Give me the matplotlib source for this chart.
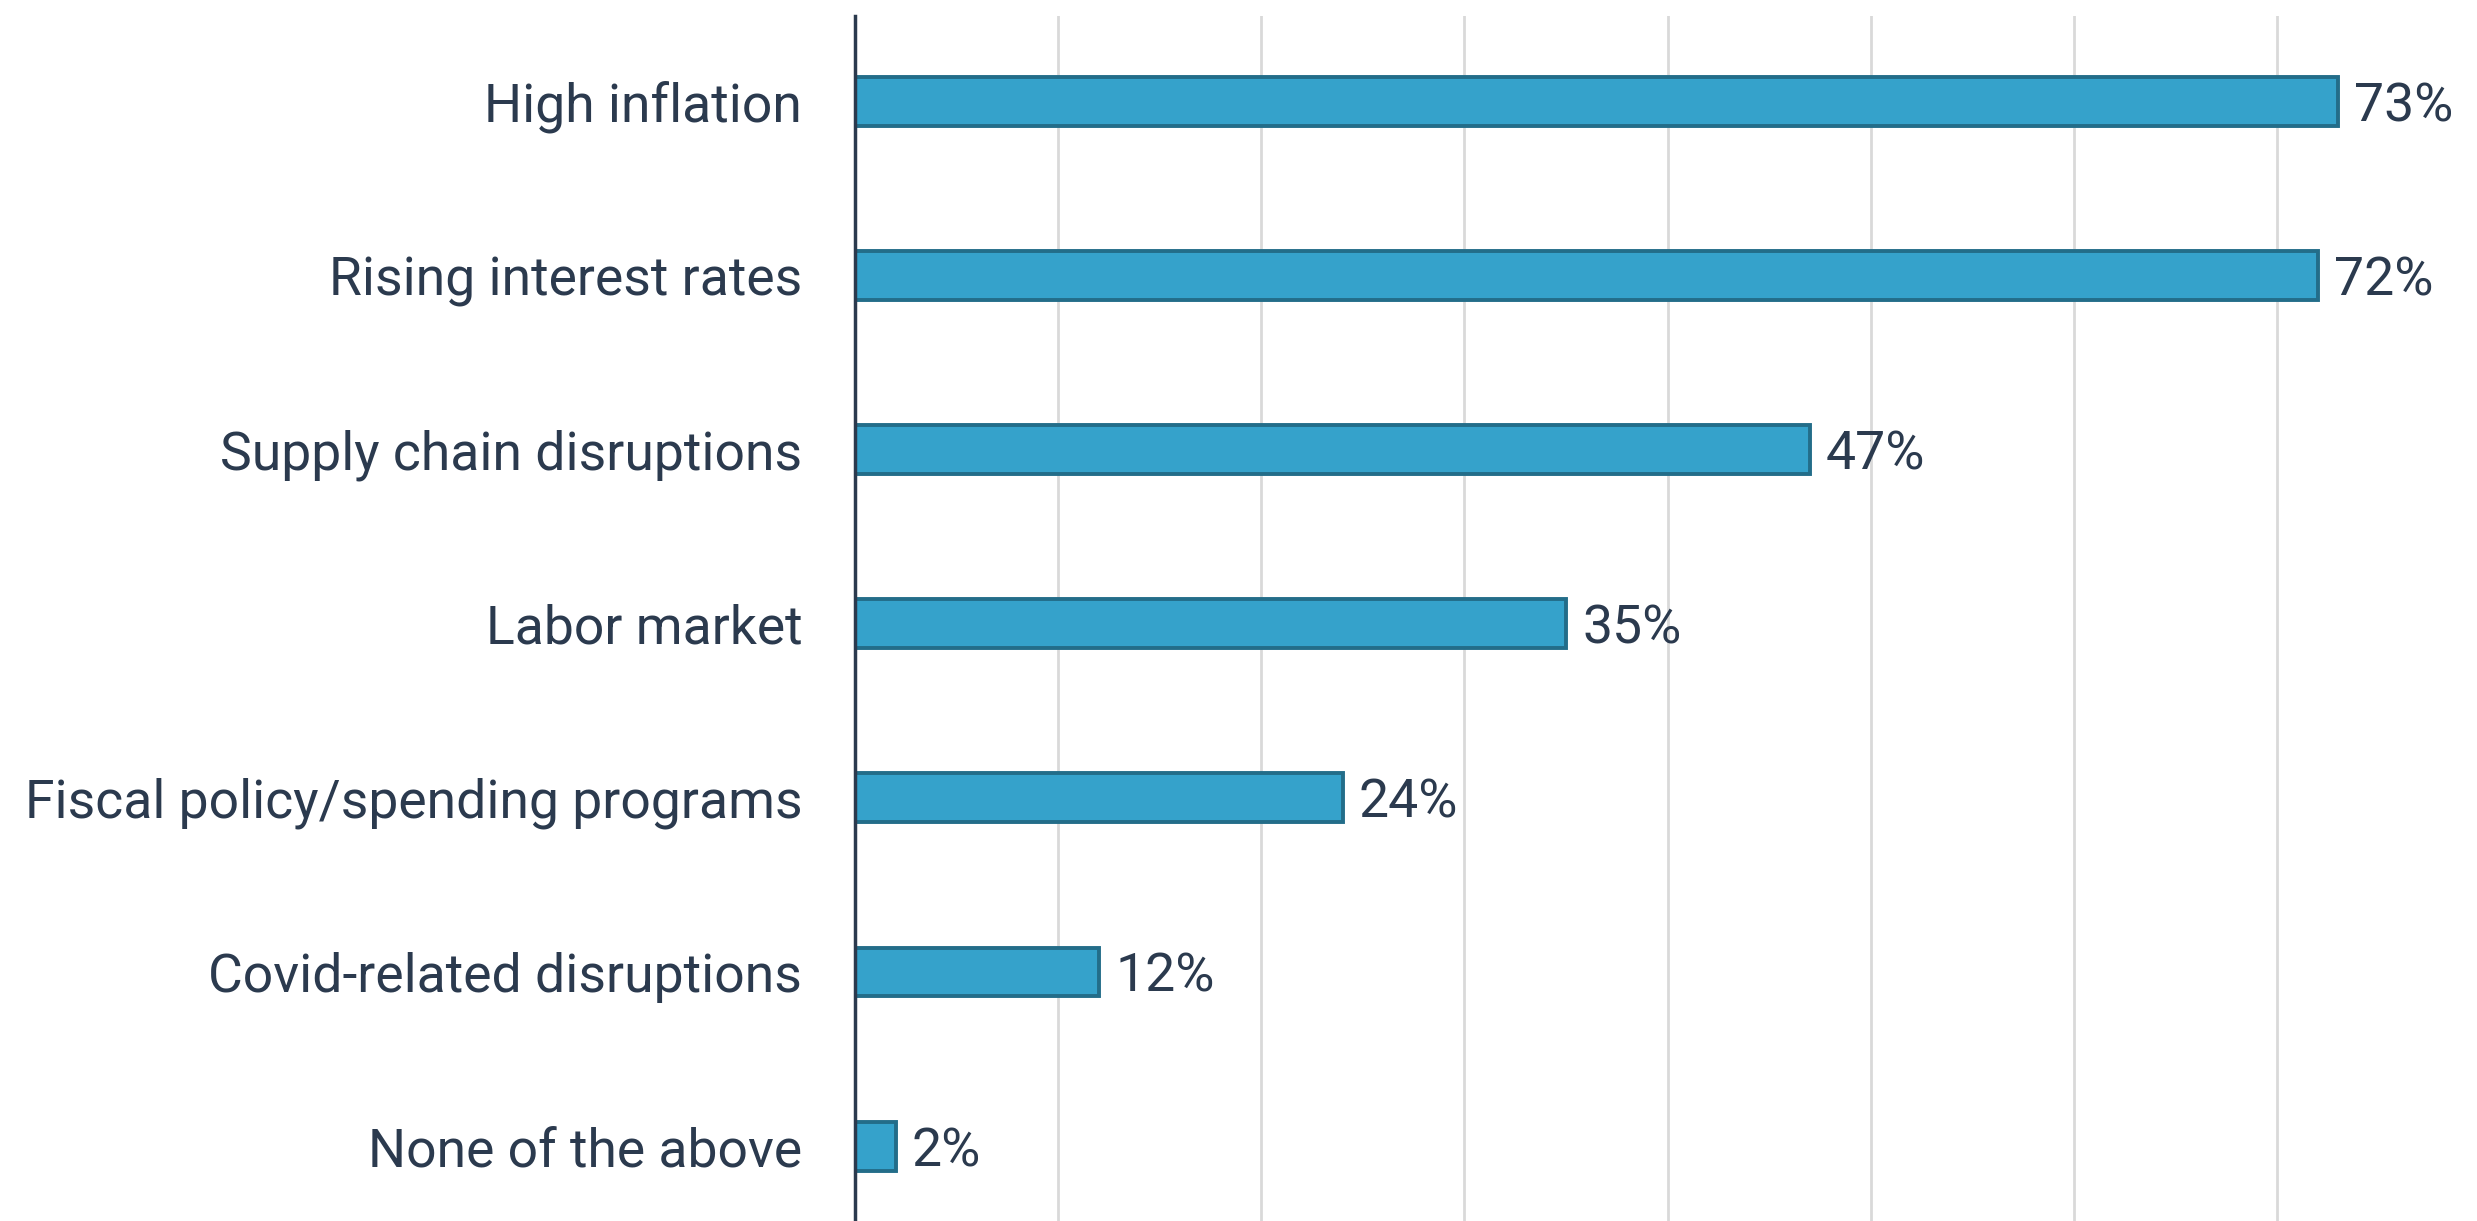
import matplotlib
matplotlib.use("Agg")
import matplotlib.pyplot as plt

# データ
categories = [
    "High inflation",
    "Rising interest rates",
    "Supply chain disruptions",
    "Labor market",
    "Fiscal policy/spending programs",
    "Covid-related disruptions",
    "None of the above",
]
values = [73, 72, 47, 35, 24, 12, 2]

text_color = "#2b3a4e"
bar_color = "#35a2cb"
edge_color = "#236d89"

plt.rcParams["font.family"] = ["Roboto", "DejaVu Sans"]

fig = plt.figure(figsize=(24.77, 12.21), dpi=100)
ax = fig.add_axes([855 / 2477, 0.0, 1 - 855 / 2477, 1 - 16 / 1221])

y = list(range(len(categories)))
ax.barh(y, values, height=0.28, color=bar_color, edgecolor=edge_color,
        linewidth=2.8, zorder=3)

for yi, v in zip(y, values):
    ax.text(v + 0.8, yi, f"{v}%", va="center_baseline", ha="left",
            fontsize=38.5, color=text_color, zorder=4)

ax.set_xlim(0, 79.85)
ax.set_ylim(6.43, -0.49)
ax.set_xticks(range(10, 80, 10))
ax.set_xticklabels([])
ax.set_yticks(y)
ax.set_yticklabels(categories, fontsize=38.5, color=text_color)
ax.tick_params(axis="both", length=0)
ax.tick_params(axis="y", pad=38)
ax.grid(axis="x", color="#d9d9d9", linewidth=2, zorder=0)

for side in ["top", "right", "bottom"]:
    ax.spines[side].set_visible(False)
ax.spines["left"].set_color(text_color)
ax.spines["left"].set_linewidth(2.5)
ax.spines["left"].set_zorder(5)

fig.savefig("out.png", dpi=100)
